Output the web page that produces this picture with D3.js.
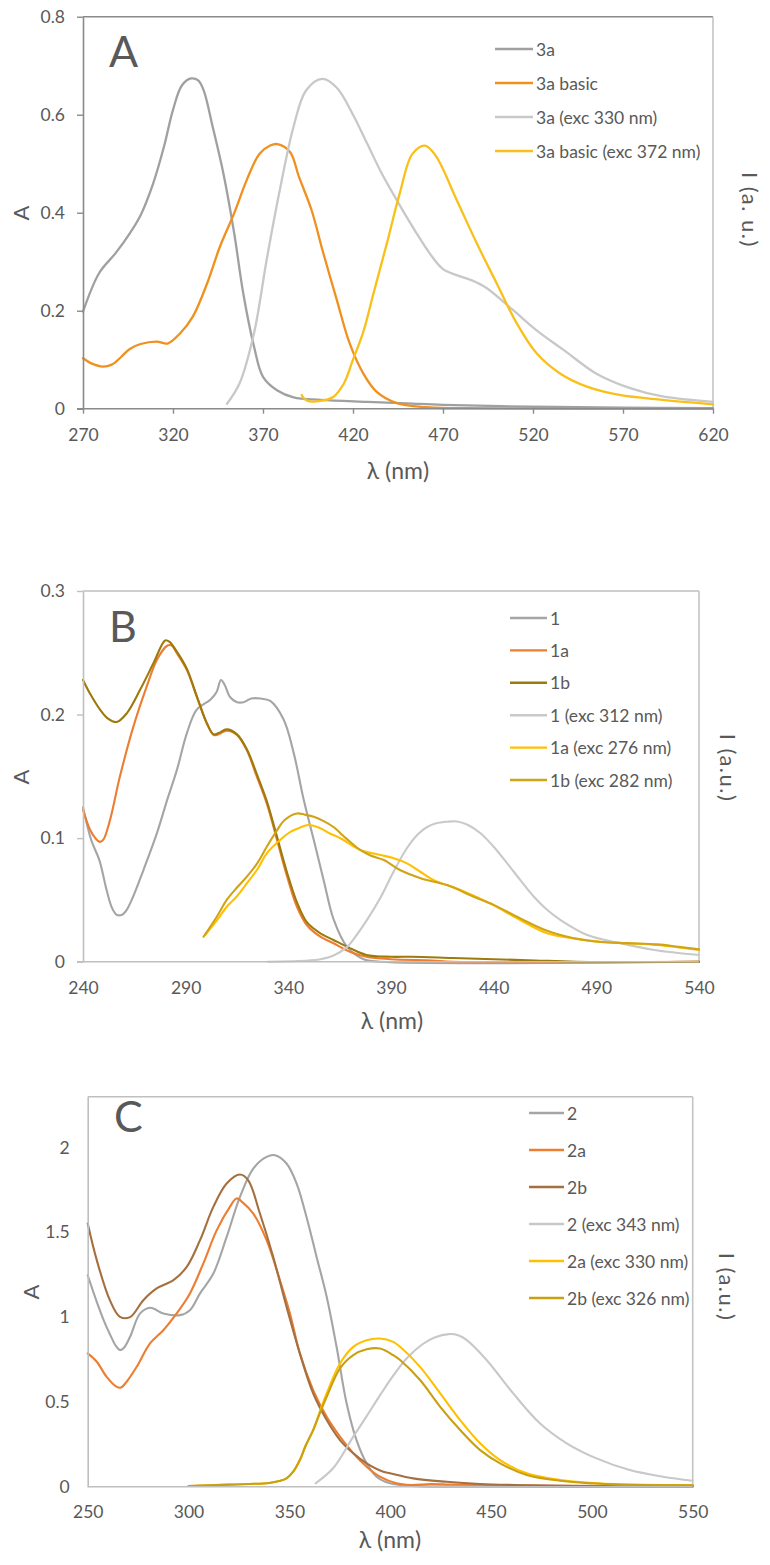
<!DOCTYPE html>
<html>
<head>
<meta charset="utf-8">
<script src="https://cdn.jsdelivr.net/npm/d3@7"></script>
<style>
  html, body { margin: 0; padding: 0; background: #fff; }
  svg { display: block; }
  text { font-family: Lato, "Open Sans", sans-serif; fill: #595959; }
</style>
</head>
<body>
<svg id="chart" width="770" height="1565"></svg>
<script>
// ---------------- DATA ----------------
// Panel A
const A_xTicks = [270, 320, 370, 420, 470, 520, 570, 620];
const A_yTicks = [0, 0.2, 0.4, 0.6, 0.8];
const A_yTickLabels = ["0", "0.2", "0.4", "0.6", "0.8"];
const A_names = ["3a", "3a basic", "3a (exc 330 nm)", "3a basic (exc 372 nm)"];
const A_3a = [[270,0.198],[279,0.277],[288,0.317],[296,0.358],[302,0.395],[309,0.46],[315,0.535],[320,0.61],[325,0.66],[330,0.674],[334,0.67],[337,0.65],[342,0.576],[348,0.48],[354,0.358],[359,0.236],[365,0.127],[370,0.065],[378,0.037],[387,0.023],[402,0.018],[428,0.014],[450,0.011],[470,0.008],[520,0.004],[570,0.002],[620,0.001]];
const A_3aBasic = [[270,0.103],[275,0.092],[281,0.086],[286,0.09],[291,0.105],[296,0.122],[302,0.132],[311,0.137],[317,0.133],[324,0.154],[331,0.188],[339,0.256],[346,0.33],[354,0.399],[361,0.467],[368,0.52],[374,0.537],[378,0.54],[385,0.524],[390,0.473],[397,0.405],[403,0.324],[411,0.222],[418,0.135],[426,0.07],[433,0.035],[444,0.012],[460,0.003],[480,0.001],[620,0]];
const A_3aExc = [[350,0.01],[357,0.052],[365,0.154],[372,0.303],[379,0.44],[387,0.576],[394,0.65],[403,0.673],[411,0.655],[420,0.6],[428,0.54],[436,0.48],[446,0.415],[455,0.36],[463,0.315],[470,0.285],[478,0.272],[486,0.262],[494,0.247],[509,0.201],[522,0.16],[537,0.12],[555,0.072],[574,0.042],[592,0.025],[620,0.014]];
const A_3aBasicExc = [[391.5,0.028],[393,0.02],[396,0.015],[402,0.016],[409,0.024],[415,0.052],[420,0.1],[426,0.16],[431,0.23],[435,0.285],[439,0.34],[446,0.44],[453,0.52],[460,0.537],[466,0.516],[477.6,0.426],[488.7,0.338],[499.8,0.256],[511,0.174],[522,0.113],[535,0.072],[550,0.045],[568,0.028],[592,0.018],[620,0.009]];

// Panel B
const B_xTicks = [240, 290, 340, 390, 440, 490, 540];
const B_yTicks = [0, 0.1, 0.2, 0.3];
const B_yTickLabels = ["0", "0.1", "0.2", "0.3"];
const B_names = ["1", "1a", "1b", "1 (exc 312 nm)", "1a (exc 276 nm)", "1b (exc 282 nm)"];
const B_1 = [[240,0.125],[244,0.0985],[248,0.082],[251.5,0.058],[254,0.044],[256.4,0.038],[259,0.038],[261.3,0.042],[264.5,0.053],[269.4,0.074],[276,0.104],[281,0.131],[285.7,0.155],[290.6,0.185],[295.4,0.204],[302,0.212],[305,0.218],[307.2,0.228],[309,0.224],[311.7,0.214],[315,0.21],[318.2,0.21],[322,0.213],[326.3,0.213],[331.2,0.211],[337.7,0.196],[342.6,0.169],[347.5,0.131],[352.4,0.0985],[357.2,0.066],[362.1,0.034],[368.6,0.012],[376.7,0.002],[385,0],[540,0]];
const B_1a = [[240,0.123],[243.4,0.107],[246,0.1],[248.3,0.097],[250,0.099],[253.2,0.115],[258,0.15],[264.5,0.19],[271,0.2226],[275.9,0.244],[280.8,0.2555],[283,0.256],[285.7,0.2496],[290.6,0.236],[295.4,0.2145],[300.3,0.193],[303.6,0.1835],[306,0.184],[310,0.187],[315,0.1835],[319.8,0.171],[324.6,0.15],[329.5,0.128],[334.5,0.0985],[339.4,0.069],[344.2,0.0445],[349,0.0297],[355.6,0.0202],[362,0.0149],[370,0.008],[378,0.004],[390,0.002],[410,0.001],[420,0],[540,0]];
const B_1b = [[240,0.228],[243.4,0.217],[248.3,0.204],[252,0.197],[256.4,0.194],[261.3,0.201],[267.8,0.22],[274.3,0.2415],[280,0.26],[282,0.259],[285.7,0.251],[290.6,0.237],[295.4,0.215],[300.3,0.193],[303.6,0.184],[306,0.185],[310,0.188],[315,0.184],[319.8,0.172],[324.6,0.152],[329.5,0.13],[334.5,0.101],[339.4,0.072],[344.2,0.048],[349,0.032],[355.6,0.023],[362,0.0176],[370,0.011],[378,0.0055],[390,0.004],[400,0.004],[420,0.003],[440,0.002],[460,0.001],[480,0],[540,0]];
const B_1exc = [[330,0],[350,0.001],[355.6,0.002],[362,0.005],[368.6,0.012],[373,0.021],[378.4,0.034],[384.9,0.052],[391.3,0.073],[397.8,0.092],[403,0.103],[407.6,0.109],[412,0.112],[417.3,0.1133],[422.2,0.1135],[427,0.111],[433.6,0.104],[440,0.093],[446.6,0.0796],[453,0.066],[459.6,0.0526],[466,0.042],[472.6,0.0337],[485.6,0.0216],[501.9,0.0149],[518.2,0.0095],[540,0.0054]];
const B_1aExc = [[299.5,0.0216],[305,0.033],[310,0.0445],[315,0.053],[319.8,0.0634],[325,0.075],[329.5,0.0877],[336,0.0985],[341,0.105],[345,0.108],[349.9,0.1106],[355.6,0.108],[360,0.104],[365.4,0.0999],[375,0.0904],[385,0.0863],[391,0.084],[397.8,0.0796],[404,0.073],[410.8,0.066],[423.8,0.058],[438.4,0.047],[453,0.0337],[466,0.023],[479,0.0189],[492,0.0162],[505,0.0149],[519.6,0.0135],[540,0.0095]];
const B_1bExc = [[298.7,0.0202],[305,0.036],[310,0.05],[315,0.06],[319.8,0.0688],[325,0.08],[329.5,0.093],[334,0.105],[338.2,0.1147],[344.2,0.12],[348,0.119],[352.4,0.1173],[357,0.114],[362,0.109],[368,0.1],[375,0.0904],[380,0.086],[386.5,0.0823],[394.6,0.074],[404.4,0.0675],[417.3,0.062],[430.3,0.0526],[440,0.046],[453,0.035],[466,0.025],[479,0.019],[492,0.016],[505,0.015],[519.6,0.014],[530,0.012],[540,0.01]];

// Panel C
const C_xTicks = [250, 300, 350, 400, 450, 500, 550];
const C_yTicks = [0, 0.5, 1, 1.5, 2];
const C_yTickLabels = ["0", "0.5", "1", "1.5", "2"];
const C_names = ["2", "2a", "2b", "2 (exc 343 nm)", "2a (exc 330 nm)", "2b (exc 326 nm)"];
const C_2 = [[250,1.247],[254.5,1.09],[258,0.98],[261,0.9],[264,0.83],[266,0.806],[268,0.82],[271,0.884],[276,1.022],[281,1.055],[287.5,1.022],[295.8,1.012],[300.7,1.041],[305.7,1.14],[312.3,1.257],[318.9,1.473],[325.5,1.709],[332.1,1.876],[338.7,1.945],[342.9,1.955],[348.6,1.906],[353.6,1.788],[358.5,1.591],[363.5,1.355],[368.5,1.12],[373.4,0.825],[378.4,0.491],[383.3,0.275],[388.3,0.138],[393.2,0.059],[399.9,0.02],[410,0.005],[430,0],[550,0]];
const C_2a = [[250,0.786],[254.5,0.737],[259.4,0.648],[264.4,0.589],[266.5,0.585],[269.3,0.619],[274.3,0.707],[280.9,0.845],[287.5,0.923],[294.1,1.022],[300.7,1.14],[307.3,1.316],[314,1.513],[320.5,1.65],[323.8,1.7],[327.1,1.674],[332.1,1.611],[338.7,1.454],[345.3,1.218],[350.3,1.022],[355.2,0.786],[361.8,0.57],[368.5,0.412],[375.1,0.295],[381.7,0.197],[388.3,0.118],[394.9,0.059],[403.1,0.02],[410,0.01],[420,0.015],[430,0.012],[450,0.01],[480,0.006],[520,0.004],[550,0.003]];
const C_2b = [[250,1.552],[254.5,1.336],[261,1.1],[266,1.002],[271,1.0],[277.6,1.1],[284.2,1.169],[292.5,1.218],[299.1,1.296],[305.7,1.454],[312.3,1.65],[318.9,1.788],[325.5,1.841],[329.6,1.807],[335.4,1.611],[342,1.355],[348.6,1.061],[355.2,0.786],[361.8,0.55],[368.5,0.393],[375.1,0.275],[381.7,0.197],[388.3,0.138],[396.6,0.088],[399.9,0.079],[411.4,0.049],[428,0.029],[444.5,0.016],[469.3,0.008],[494,0.004],[550,0.002]];
const C_2exc = [[363,0.02],[371.8,0.11],[381.7,0.295],[388,0.41],[395,0.54],[401.5,0.655],[408,0.755],[416,0.84],[422,0.88],[429,0.9],[434,0.892],[438,0.864],[447.8,0.747],[461,0.55],[474.2,0.374],[487.5,0.256],[502.3,0.167],[518.8,0.098],[535.3,0.059],[550,0.035]];
const C_2aExc = [[300,0.004],[310,0.008],[320,0.012],[330,0.016],[340,0.022],[345,0.033],[348.6,0.049],[352,0.09],[355.2,0.157],[358,0.24],[361.8,0.334],[365,0.44],[368.5,0.55],[375.1,0.727],[381.7,0.825],[388.3,0.864],[394.9,0.874],[401.5,0.854],[404.9,0.825],[414.8,0.707],[424.8,0.55],[434.7,0.393],[444.6,0.256],[454.5,0.157],[467.7,0.079],[484.2,0.04],[510.7,0.016],[550,0.01]];
const C_2bExc = [[300,0.004],[310,0.008],[320,0.012],[330,0.016],[340,0.022],[345,0.033],[348.6,0.049],[352,0.09],[355.2,0.157],[358,0.24],[361.8,0.334],[365,0.43],[368.5,0.53],[375.1,0.698],[381.7,0.776],[388.3,0.81],[394.9,0.815],[401.5,0.776],[404.9,0.747],[414.8,0.629],[424.8,0.471],[434.7,0.334],[444.6,0.216],[454.5,0.138],[467.7,0.069],[484.2,0.035],[510.7,0.014],[550,0.008]];

// ---------------- DRAW ----------------
const svg = d3.select("#chart");

function panel(cfg) {
  const x = d3.scaleLinear().domain(cfg.xDomain).range([cfg.left, cfg.right]);
  const y = d3.scaleLinear().domain(cfg.yDomain).range([cfg.bottom, cfg.top]);
  const g = svg.append("g");

  // frame: top and right
  g.append("line").attr("x1", cfg.left).attr("x2", cfg.right).attr("y1", cfg.top).attr("y2", cfg.top)
    .attr("stroke", cfg.topColor).attr("stroke-width", 1.6);
  g.append("line").attr("x1", cfg.right).attr("x2", cfg.right).attr("y1", cfg.top).attr("y2", cfg.bottom)
    .attr("stroke", cfg.rightColor).attr("stroke-width", 1.6);

  // curves
  const line = d3.line().x(d => x(d[0])).y(d => y(Math.max(0, d[1]))).curve(d3.curveCatmullRom.alpha(0.5));
  cfg.series.forEach((s, i) => {
    g.append("path").datum(s).attr("d", line).attr("fill", "none")
      .attr("stroke", cfg.colors[i]).attr("stroke-width", cfg.lw)
      .attr("stroke-linejoin", "round").attr("stroke-linecap", "round");
  });

  // axes
  const xAxis = d3.axisBottom(x).tickValues(cfg.xTicks).tickFormat(d3.format("d"))
    .tickSize(cfg.xTickSize).tickSizeOuter(0).tickPadding(cfg.xPad);
  const yAxis = d3.axisLeft(y).tickValues(cfg.yTicks).tickFormat((d, i) => cfg.yLabels[i])
    .tickSize(cfg.yTickSize).tickSizeOuter(0).tickPadding(cfg.yPad);
  const gx = g.append("g").attr("transform", `translate(0,${cfg.bottom})`).call(xAxis);
  const gy = g.append("g").attr("transform", `translate(${cfg.left},0)`).call(yAxis);
  [gx, gy].forEach(ax => {
    ax.select(".domain").attr("stroke", cfg.axisColor).attr("stroke-width", 1.6);
    ax.selectAll(".tick line").attr("stroke", cfg.axisColor).attr("stroke-width", 1.4);
    ax.selectAll(".tick text").attr("fill", "#595959").style("font-size", "17.5px")
      .style("font-family", "Lato, 'Open Sans', sans-serif");
  });
  gx.select(".domain").attr("d", `M${cfg.left - (cfg.yTickSize)},0H${cfg.right}`);

  // panel letter
  g.append("text").attr("x", cfg.letterX).attr("y", cfg.letterY).text(cfg.letter)
    .style("font-size", "43px");

  // axis titles
  g.append("text").attr("x", cfg.xTitleX).attr("y", cfg.xTitleY).attr("text-anchor", "middle")
    .attr("dominant-baseline", "central").style("font-size", "23px").text("λ (nm)");
  g.append("text").attr("transform", `translate(${cfg.aX},${cfg.aY}) rotate(-90)`)
    .attr("text-anchor", "middle").attr("dominant-baseline", "central").style("font-size", "22px").text("A");
  g.append("text").attr("transform", `translate(${cfg.iX},${cfg.iY}) rotate(90)`)
    .attr("text-anchor", "middle").attr("dominant-baseline", "central").style("font-size", "22px")
    .style("letter-spacing", "1.5px").text(cfg.iLabel);

  // legend
  const lg = g.append("g");
  cfg.names.forEach((n, i) => {
    const yy = cfg.legY + i * cfg.legStep;
    lg.append("line").attr("x1", cfg.legX).attr("x2", cfg.legX + cfg.legLen).attr("y1", yy).attr("y2", yy)
      .attr("stroke", cfg.colors[i]).attr("stroke-width", 2.4);
    lg.append("text").attr("x", cfg.legX + cfg.legLen + 3).attr("y", yy).attr("dominant-baseline", "central")
      .style("font-size", "17.5px").text(n);
  });
}

panel({
  xDomain: [270, 620], yDomain: [0, 0.8],
  left: 83, right: 713, top: 16.7, bottom: 408.7,
  xTicks: A_xTicks, yTicks: A_yTicks, yLabels: A_yTickLabels,
  xTickSize: 5, xPad: 15, yTickSize: 6, yPad: 12,
  axisColor: "#8a8a8a", topColor: "#8a8a8a", rightColor: "#c4c4c4",
  series: [A_3a, A_3aBasic, A_3aExc, A_3aBasicExc],
  colors: ["#a0a0a0", "#f0901e", "#c8c8c8", "#f9c01a"],
  names: A_names, lw: 2.3,
  letter: "A", letterX: 109, letterY: 67,
  xTitleX: 398, xTitleY: 470, aX: 20, aY: 213, iX: 750, iY: 210, iLabel: "I (a. u.)",
  legX: 495, legLen: 38, legY: 49, legStep: 34
});

panel({
  xDomain: [240, 540], yDomain: [0, 0.3],
  left: 83, right: 699, top: 591, bottom: 961.7,
  xTicks: B_xTicks, yTicks: B_yTicks, yLabels: B_yTickLabels,
  xTickSize: 0, xPad: 20, yTickSize: 6, yPad: 12,
  axisColor: "#bfbfbf", topColor: "#bfbfbf", rightColor: "#c4c4c4",
  series: [B_1, B_1a, B_1b, B_1exc, B_1aExc, B_1bExc],
  colors: ["#a5a5a5", "#ed7d31", "#9c7a0c", "#c9c9c9", "#ffc000", "#d0a416"],
  names: B_names, lw: 2.1,
  letter: "B", letterX: 109, letterY: 642,
  xTitleX: 392, xTitleY: 1020, aX: 20, aY: 777, iX: 728, iY: 768, iLabel: "I (a.u.)",
  legX: 510, legLen: 37, legY: 618, legStep: 32.4
});

panel({
  xDomain: [250, 550], yDomain: [0, 2.3],
  left: 87.7, right: 692.7, top: 1096.7, bottom: 1486.7,
  xTicks: C_xTicks, yTicks: C_yTicks, yLabels: C_yTickLabels,
  xTickSize: 0, xPad: 19, yTickSize: 0, yPad: 18,
  axisColor: "#bfbfbf", topColor: "#bfbfbf", rightColor: "#c4c4c4",
  series: [C_2, C_2a, C_2b, C_2exc, C_2aExc, C_2bExc],
  colors: ["#a5a5a5", "#ed7d31", "#a5703f", "#c8c8c8", "#ffc000", "#c9a010"],
  names: C_names, lw: 2.1,
  letter: "C", letterX: 114, letterY: 1132,
  xTitleX: 390, xTitleY: 1539, aX: 30, aY: 1292, iX: 727, iY: 1287, iLabel: "I (a.u.)",
  legX: 529, legLen: 35, legY: 1113, legStep: 37
});
</script>
</body>
</html>
